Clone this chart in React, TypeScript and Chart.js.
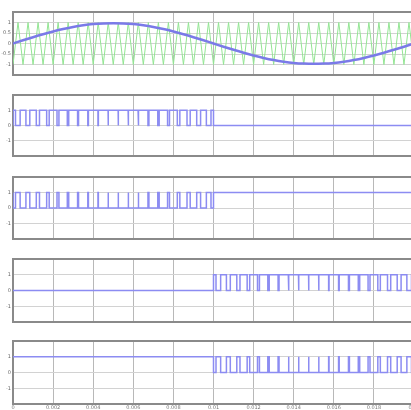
import React, { useEffect, useRef } from 'react';
import Chart from 'chart.js/auto';

// time axis in milliseconds
const xTickLabels = ['0', '0.002', '0.004', '0.006', '0.008', '0.01', '0.012', '0.014', '0.016', '0.018', '0.02'];

const sineTimes = [0, 0.5, 1, 1.5, 2, 2.5, 3, 3.5, 4, 4.5, 5, 5.5, 6, 6.5, 7, 7.5, 8, 8.5, 9, 9.5, 10,
  10.5, 11, 11.5, 12, 12.5, 13, 13.5, 14, 14.5, 15, 15.5, 16, 16.5, 17, 17.5, 18, 18.5, 19, 19.5, 20];
const sineValues = [0, 0.152, 0.3, 0.44, 0.57, 0.686, 0.785, 0.864, 0.923, 0.958, 0.97, 0.958, 0.923, 0.864, 0.785,
  0.686, 0.57, 0.44, 0.3, 0.152, 0, -0.152, -0.3, -0.44, -0.57, -0.686, -0.785, -0.864, -0.923, -0.958, -0.97,
  -0.958, -0.923, -0.864, -0.785, -0.686, -0.57, -0.44, -0.3, -0.152, 0];

const carrierTimes = [0, 0.25, 0.5, 0.75, 1, 1.25, 1.5, 1.75, 2, 2.25, 2.5, 2.75, 3, 3.25, 3.5, 3.75, 4, 4.25, 4.5, 4.75,
  5, 5.25, 5.5, 5.75, 6, 6.25, 6.5, 6.75, 7, 7.25, 7.5, 7.75, 8, 8.25, 8.5, 8.75, 9, 9.25, 9.5, 9.75,
  10, 10.25, 10.5, 10.75, 11, 11.25, 11.5, 11.75, 12, 12.25, 12.5, 12.75, 13, 13.25, 13.5, 13.75, 14, 14.25, 14.5, 14.75,
  15, 15.25, 15.5, 15.75, 16, 16.25, 16.5, 16.75, 17, 17.25, 17.5, 17.75, 18, 18.25, 18.5, 18.75, 19, 19.25, 19.5, 19.75, 20];
const carrierValues = [-1, 1, -1, 1, -1, 1, -1, 1, -1, 1, -1, 1, -1, 1, -1, 1, -1, 1, -1, 1,
  -1, 1, -1, 1, -1, 1, -1, 1, -1, 1, -1, 1, -1, 1, -1, 1, -1, 1, -1, 1,
  -1, 1, -1, 1, -1, 1, -1, 1, -1, 1, -1, 1, -1, 1, -1, 1, -1, 1, -1, 1,
  -1, 1, -1, 1, -1, 1, -1, 1, -1, 1, -1, 1, -1, 1, -1, 1, -1, 1, -1, 1, -1];

// [start, end] of each pulse (ms)
const posHalfPulses = [[0, 0.125], [0.356, 0.644], [0.838, 1.162], [1.321, 1.679], [1.805, 2.195], [2.291, 2.709],
  [2.779, 3.221], [3.269, 3.731], [3.762, 4.238], [4.258, 4.742], [4.756, 5.244], [5.258, 5.742], [5.762, 6.238],
  [6.269, 6.731], [6.779, 7.221], [7.291, 7.709], [7.805, 8.195], [8.321, 8.679], [8.838, 9.162], [9.356, 9.644], [9.875, 10]];
const negHalfPulses = [[10, 10.125], [10.356, 10.644], [10.838, 11.162], [11.321, 11.679], [11.805, 12.195], [12.291, 12.709],
  [12.779, 13.221], [13.269, 13.731], [13.762, 14.238], [14.258, 14.742], [14.756, 15.244], [15.258, 15.742], [15.762, 16.238],
  [16.269, 16.731], [16.779, 17.221], [17.291, 17.709], [17.805, 18.195], [18.321, 18.679], [18.838, 19.162], [19.356, 19.644], [19.875, 20]];

const sineAxisLabels = [-1, -0.5, 0, 0.5, 1];
const pulseAxisLabels = [-1, 0, 1];

const PULSE_COLOR = '#8c8cf2';

function pulseSeries(pulses: number[][], base: number, level: number) {
  const pts: { x: number; y: number }[] = [{ x: 0, y: base }];
  for (const [a, b] of pulses) {
    pts.push({ x: a, y: base }, { x: a, y: level }, { x: b, y: level }, { x: b, y: base });
  }
  pts.push({ x: 20, y: base });
  return pts;
}

type Panel = {
  top: number;
  h: number;
  yMin: number;
  yMax: number;
  step: number;
  labels: number[];
  datasets: any[];
  showX: boolean;
};

const panels: Panel[] = [
  {
    top: 12, h: 63, yMin: -1.5, yMax: 1.5, step: 0.5, labels: sineAxisLabels, showX: false,
    datasets: [
      { data: sineTimes.map((t, i) => ({ x: t, y: sineValues[i] })), borderColor: '#7a7ae8', borderWidth: 2.5, cubicInterpolationMode: 'monotone' },
      { data: carrierTimes.map((t, i) => ({ x: t, y: carrierValues[i] })), borderColor: '#93e593', borderWidth: 1 },
    ],
  },
  {
    top: 95, h: 61, yMin: -2, yMax: 2, step: 1, labels: pulseAxisLabels, showX: false,
    datasets: [{ data: pulseSeries(posHalfPulses, 0, 1), borderColor: PULSE_COLOR, borderWidth: 1.5 }],
  },
  {
    top: 177, h: 62, yMin: -2, yMax: 2, step: 1, labels: pulseAxisLabels, showX: false,
    datasets: [{ data: pulseSeries(posHalfPulses, 1, 0), borderColor: PULSE_COLOR, borderWidth: 1.5 }],
  },
  {
    top: 259, h: 63, yMin: -2, yMax: 2, step: 1, labels: pulseAxisLabels, showX: false,
    datasets: [{ data: pulseSeries(negHalfPulses, 0, 1), borderColor: PULSE_COLOR, borderWidth: 1.5 }],
  },
  {
    top: 341, h: 63, yMin: -2, yMax: 2, step: 1, labels: pulseAxisLabels, showX: true,
    datasets: [{ data: pulseSeries(negHalfPulses, 1, 0), borderColor: PULSE_COLOR, borderWidth: 1.5 }],
  },
];

const PAD = 2;
const X_AXIS_H = 9;
const CANVAS_W = 414;

function PanelChart({ p }: { p: Panel }) {
  const ref = useRef<HTMLCanvasElement | null>(null);
  useEffect(() => {
    if (!ref.current) return;
    const chart = new Chart(ref.current, {
      type: 'line',
      data: { datasets: p.datasets.map((d) => ({ ...d, pointRadius: 0, fill: false })) },
      options: {
        animation: false,
        responsive: false,
        maintainAspectRatio: false,
        events: [],
        layout: { padding: { top: PAD, bottom: p.showX ? 0 : PAD, left: 0, right: 0 } },
        plugins: { legend: { display: false }, tooltip: { enabled: false } },
        scales: {
          x: {
            type: 'linear',
            min: 0,
            max: 20,
            ticks: {
              stepSize: 2,
              display: p.showX,
              font: { size: 5, family: 'DejaVu Sans' },
              color: '#777',
              padding: 1,
              maxRotation: 0,
              autoSkip: false,
              callback: (_v: any, i: number) => xTickLabels[i],
            },
            grid: {
              drawTicks: false,
              color: (ctx: any) => (ctx.tick && (ctx.tick.value === 0 || ctx.tick.value === 20) ? '#8a8a8a' : '#b8b8b8'),
              lineWidth: (ctx: any) => (ctx.tick && (ctx.tick.value === 0 || ctx.tick.value === 20) ? 2 : 1),
            },
            border: { display: true, color: '#8a8a8a', width: 2 },
            afterFit: (s: any) => {
              s.height = p.showX ? X_AXIS_H : 0;
              s.paddingLeft = 0;
              s.paddingRight = 0;
            },
          },
          y: {
            min: p.yMin,
            max: p.yMax,
            ticks: {
              stepSize: p.step,
              font: { size: 5, family: 'DejaVu Sans' },
              color: '#666',
              padding: 2,
              autoSkip: false,
              callback: (v: any) => (p.labels.includes(Number(v)) ? String(v) : ''),
            },
            grid: {
              drawTicks: false,
              color: (ctx: any) => (ctx.tick && (ctx.tick.value === p.yMax || ctx.tick.value === p.yMin) ? '#8a8a8a' : '#d2d2d2'),
              lineWidth: (ctx: any) => (ctx.tick && (ctx.tick.value === p.yMax || ctx.tick.value === p.yMin) ? 2 : 1),
            },
            border: { display: true, color: '#8a8a8a', width: 2 },
            afterFit: (s: any) => {
              s.width = 13;
              s.paddingTop = 0;
              s.paddingBottom = 0;
            },
          },
        },
      } as any,
    });
    return () => chart.destroy();
  }, [p]);
  const hgt = p.h + PAD + (p.showX ? X_AXIS_H : PAD);
  return (
    <canvas
      ref={ref}
      width={CANVAS_W}
      height={hgt}
      style={{ position: 'absolute', left: 0, top: p.top - PAD, width: CANVAS_W, height: hgt }}
    />
  );
}

export default function App() {
  return (
    <div
      style={{
        position: 'fixed',
        left: 0,
        top: 0,
        width: 411,
        height: 410,
        overflow: 'hidden',
        background: '#ffffff',
      }}
    >
      {panels.map((p, i) => (
        <PanelChart key={i} p={p} />
      ))}
    </div>
  );
}
